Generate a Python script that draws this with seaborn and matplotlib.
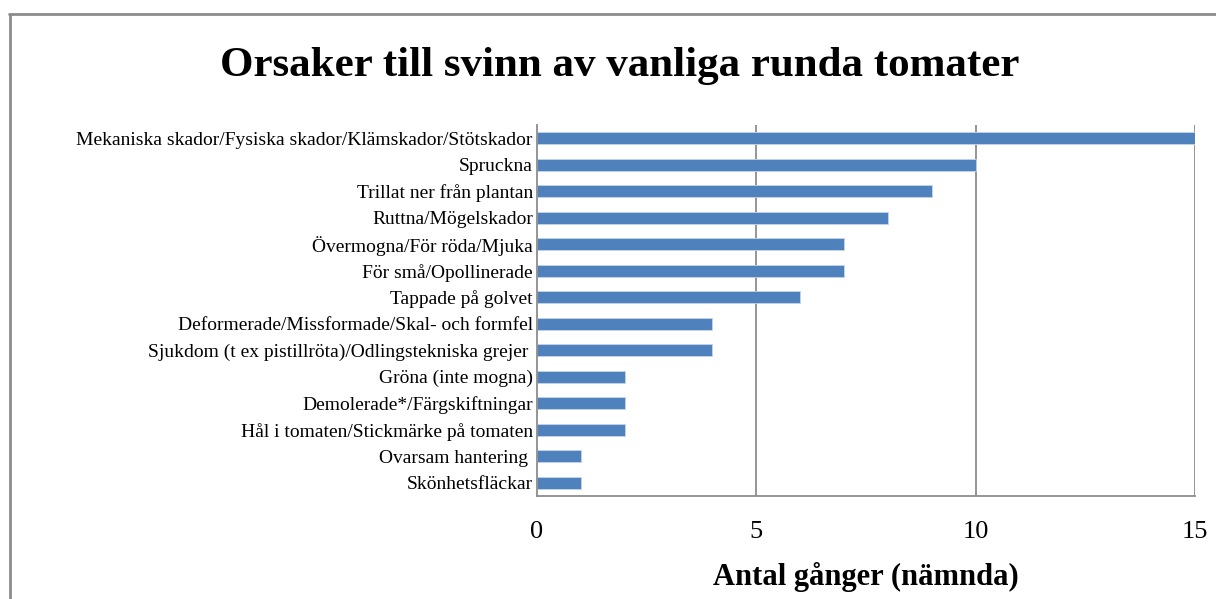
import numpy as np
import pandas as pd
import matplotlib
matplotlib.use('Agg')
import matplotlib.pyplot as plt
from matplotlib.lines import Line2D
import seaborn as sns

orsaker = [
    'Mekaniska skador/Fysiska skador/Klämskador/Stötskador',
    'Spruckna',
    'Trillat ner från plantan',
    'Ruttna/Mögelskador',
    'Övermogna/För röda/Mjuka',
    'För små/Opollinerade',
    'Tappade på golvet',
    'Deformerade/Missformade/Skal- och formfel',
    'Sjukdom (t ex pistillröta)/Odlingstekniska grejer ',
    'Gröna (inte mogna)',
    'Demolerade*/Färgskiftningar',
    'Hål i tomaten/Stickmärke på tomaten',
    'Ovarsam hantering ',
    'Skönhetsfläckar',
]
antal = [15, 10, 9, 8, 7, 7, 6, 4, 4, 2, 2, 2, 1, 1]

df = pd.DataFrame({'Orsak': orsaker, 'Antal': antal})

sns.set_style('white')
plt.rcParams['font.family'] = ['Liberation Serif', 'DejaVu Serif']
plt.rcParams['text.color'] = 'black'
plt.rcParams['xtick.labelcolor'] = 'black'
plt.rcParams['ytick.labelcolor'] = 'black'
plt.rcParams['axes.labelcolor'] = 'black'

fig = plt.figure(figsize=(12.16, 5.99), dpi=100)
ax = fig.add_axes([0.4416, 0.172, 0.5411, 0.6193])

sns.barplot(data=df, x='Antal', y='Orsak', orient='h', color='#4F81BD',
            saturation=1, width=0.45, edgecolor='#C5D5EA', linewidth=0.6, ax=ax)

grey = '#8C8C8C'
ax.set_xlim(0, 15)
ax.set_ylim(len(orsaker) - 0.5, -0.5)
ax.set_xticks([0, 5, 10, 15])
ax.tick_params(axis='x', direction='out', length=6, width=1.2, color=grey,
               labelsize=19, pad=12)
ax.tick_params(axis='y', which='major', length=0, labelsize=14, pad=3)
ax.set_yticks(np.arange(len(orsaker) + 1) - 0.5, minor=True)
ax.tick_params(axis='y', which='minor', direction='out', length=5, width=1.2, color=grey)

for x in [5, 10, 15]:
    ax.axvline(x, color=grey, lw=1.3, zorder=0)

for side in ['top', 'right']:
    ax.spines[side].set_visible(False)
for side in ['left', 'bottom']:
    ax.spines[side].set_color(grey)
    ax.spines[side].set_linewidth(1.3)

ax.set_ylabel('')
ax.set_xlabel('Antal gånger (nämnda)', fontsize=22, fontweight='bold', labelpad=14)

fig.text(0.51, 0.89, 'Orsaker till svinn av vanliga runda tomater',
         ha='center', va='center', fontsize=31, fontweight='bold')

# ram runt diagrammet (bara överkant och vänsterkant syns)
fig.add_artist(Line2D([0.0078, 1.0], [0.9766, 0.9766], color=grey, lw=2))
fig.add_artist(Line2D([0.0082, 0.0082], [0.0, 0.9766], color=grey, lw=2))

fig.savefig('out.png', dpi=100)
